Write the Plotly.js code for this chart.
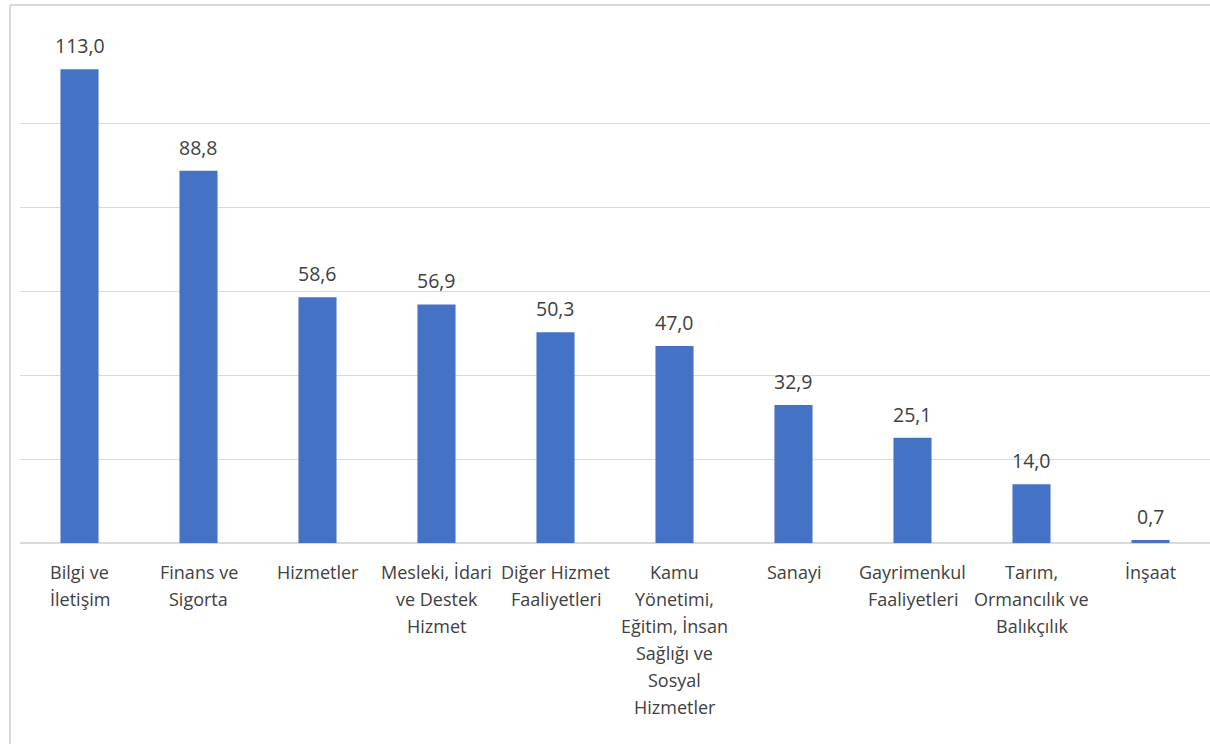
<!DOCTYPE html>
<html>
<head>
<meta charset="utf-8">
<script src="https://cdn.plot.ly/plotly-3.0.1.min.js"></script>
<style>html,body{margin:0;padding:0;background:#fff;}#chart{width:1210px;height:744px;}</style>
</head>
<body>
<div id="chart"></div>
<script>
const categories = ["Bilgi ve İletişim","Finans ve Sigorta","Hizmetler","Mesleki, İdari ve Destek Hizmet","Diğer Hizmet Faaliyetleri","Kamu Yönetimi, Eğitim, İnsan Sağlığı ve Sosyal Hizmetler","Sanayi","Gayrimenkul Faaliyetleri","Tarım, Ormancılık ve Balıkçılık","İnşaat"];
const labelLines = [
  ["Bilgi ve","İletişim"],
  ["Finans ve","Sigorta"],
  ["Hizmetler"],
  ["Mesleki, İdari","ve Destek","Hizmet"],
  ["Diğer Hizmet","Faaliyetleri"],
  ["Kamu","Yönetimi,","Eğitim, İnsan","Sağlığı ve","Sosyal","Hizmetler"],
  ["Sanayi"],
  ["Gayrimenkul","Faaliyetleri"],
  ["Tarım,","Ormancılık ve","Balıkçılık"],
  ["İnşaat"]
];
const values = [113.0, 88.8, 58.6, 56.9, 50.3, 47.0, 32.9, 25.1, 14.0, 0.7];

const FONT = "'Open Sans', 'Noto Sans', sans-serif";
const annotations = [];
values.forEach((v, i) => {
  annotations.push({
    x: categories[i], y: v, xref: 'x', yref: 'y',
    text: v.toFixed(1).replace('.', ','),
    showarrow: false, yanchor: 'bottom', yshift: 8,
    font: {family: FONT, size: 19.5, color: '#404040'}
  });
  labelLines[i].forEach((line, j) => {
    annotations.push({
      x: categories[i], y: 0, xref: 'x', yref: 'y',
      text: line, showarrow: false, yanchor: 'top',
      yshift: -15 - 27 * j,
      font: {family: FONT, size: 18, color: '#404040'}
    });
  });
});

const trace = {
  type: 'bar', x: categories, y: values,
  marker: {color: '#4472C4'}, width: 0.32,
  hoverinfo: 'none'
};

const layout = {
  width: 1210, height: 744,
  margin: {l: 20, r: 0, t: 40, b: 201, pad: 0},
  paper_bgcolor: '#ffffff', plot_bgcolor: '#ffffff',
  showlegend: false,
  separators: ',.',
  font: {family: FONT, size: 17, color: '#404040'},
  xaxis: {showticklabels: false, showgrid: false, zeroline: false, showline: false, ticks: ''},
  yaxis: {range: [0, 120], dtick: 20, showticklabels: false, showgrid: true,
          gridcolor: '#d9d9d9', gridwidth: 1.3, zeroline: true, zerolinecolor: '#d9d9d9', zerolinewidth: 1.5, ticks: ''},
  annotations: annotations,
  shapes: [
    {type: 'line', xref: 'paper', yref: 'paper', x0: -0.0084, x1: -0.0084, y0: 1.0696, y1: -0.42, line: {color: '#d9d9d9', width: 2}},
    {type: 'line', xref: 'paper', yref: 'paper', x0: -0.0084, x1: 1.01, y0: 1.0696, y1: 1.0696, line: {color: '#d9d9d9', width: 2}}
  ]
};

Plotly.newPlot('chart', [trace], layout, {displayModeBar: false, staticPlot: true});
</script>
</body>
</html>
